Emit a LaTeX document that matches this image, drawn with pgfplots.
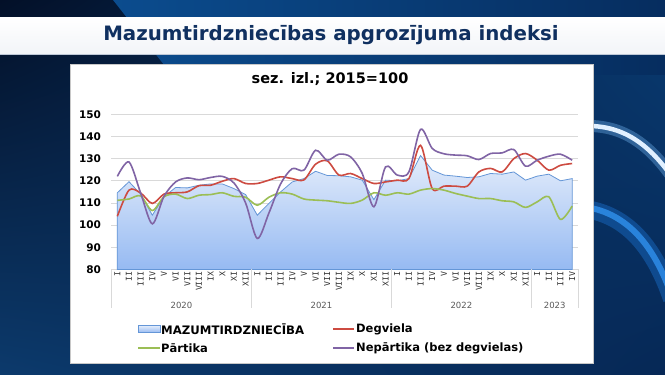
\documentclass[border=0pt]{standalone}
\usepackage{fontspec}
\setmainfont{DejaVu Sans}
\setmonofont{DejaVu Sans Mono}
\usepackage{pgfplots}
\pgfplotsset{compat=1.18}
\usetikzlibrary{shadings}
\definecolor{bgA}{RGB}{3,16,40}
\definecolor{bgB}{RGB}{9,58,112}
\definecolor{bgC}{RGB}{12,58,108}
\definecolor{bgD}{RGB}{6,40,86}
\definecolor{bgbright}{RGB}{11,76,142}
\definecolor{bgbright2}{RGB}{6,45,95}
\definecolor{navy}{RGB}{16,48,96}
\definecolor{cblue}{RGB}{100,150,215}
\definecolor{areatop}{RGB}{228,237,251}
\definecolor{areabot}{RGB}{150,186,242}
\definecolor{cred}{RGB}{205,75,65}
\definecolor{cgreen}{RGB}{155,190,85}
\definecolor{cpurple}{RGB}{128,100,165}
\definecolor{gridc}{RGB}{217,217,217}
\definecolor{txtgray}{RGB}{50,50,50}
\definecolor{yeargray}{RGB}{89,89,89}
\begin{document}
\begin{tikzpicture}[x=1pt,y=1pt]
\useasboundingbox (0,0) rectangle (665,375);
\clip (0,0) rectangle (665,375);
% background
\shade[upper left=bgA, upper right=bgB, lower left=bgC, lower right=bgD] (0,0) rectangle (665,375);
\shade[left color=bgbright, right color=bgbright2] (113,375) -- (665,375) -- (665,300) -- (172,300) -- cycle;
% arcs on the right
\draw[line width=18, color={rgb,255:red,30;green,130;blue,235}, opacity=0.35] (585,166) .. controls (628,160) and (655,126) .. (672,76);
\draw[line width=6, color={rgb,255:red,50;green,150;blue,245}, opacity=0.75] (585,168) .. controls (628,162) and (655,128) .. (672,78);
\draw[line width=12, color={rgb,255:red,120;green,190;blue,250}, opacity=0.35] (585,249) .. controls (622,250) and (648,232) .. (672,198);
\draw[line width=4.5, color={rgb,255:red,225;green,240;blue,255}] (585,249) .. controls (622,250) and (648,232) .. (672,198);
% title band
\shade[top color=white, bottom color={rgb,255:red,242;green,244;blue,248}] (0,321) rectangle (665,357);
\draw[color={rgb,255:red,190;green,200;blue,215}, line width=0.6] (0,321) -- (665,321);
\node[font=\bfseries\fontsize{19.8}{22}\selectfont, text=navy] at (331,339.5) {Mazumtirdzniecības apgrozījuma indeksi};
% panel
\fill[white] (70,12) rectangle (593,311);
\draw[color={rgb,255:red,200;green,200;blue,200}, line width=0.6] (70,12) rectangle (593,311);
\node[font=\bfseries\fontsize{14.5}{16}\selectfont] at (330,295.5) {sez. izl.; 2015=100};
\begin{axis}[
  at={(111.5pt,105.5pt)}, anchor=south west, scale only axis,
  width=466.5pt, height=155.2pt,
  xmin=-0.5, xmax=39.5, ymin=80, ymax=150,
  ytick={80,90,...,150},
  ymajorgrids, grid style={gridc, line width=0.8pt},
  axis line style={draw=none},
  major tick length=0pt, tick style={draw=none},
  xtick={0,...,39},
  xticklabels={I,II,III,IV,V,VI,VII,VIII,IX,X,XI,XII,I,II,III,IV,V,VI,VII,VIII,IX,X,XI,XII,I,II,III,IV,V,VI,VII,VIII,IX,X,XI,XII,I,II,III,IV},
  x tick label style={rotate=90, anchor=east, font=\ttfamily\fontsize{8.2}{9}\selectfont, text=txtgray, inner sep=1.5pt},
  yticklabel style={font=\bfseries\fontsize{10.5}{12}\selectfont, text=black, xshift=-7pt},
  /pgf/number format/assume math mode=true,
  clip=false, no markers,
]
\addplot[draw=cblue, line width=0.8pt, top color=areatop, bottom color=areabot] coordinates {
(0,114.6)(1,119.6)(2,114)(3,104.5)(4,112.8)(5,117)(6,116.8)(7,118)(8,118.6)(9,118.6)
(10,116.5)(11,113.8)(12,104.5)(13,109.8)(14,115)(15,119.5)(16,121)(17,124.3)(18,122.4)(19,122.3)
(20,121.8)(21,120.3)(22,111.5)(23,120.3)(24,120)(25,121)(26,131.4)(27,124.8)(28,122.6)(29,122.1)
(30,121.5)(31,121.8)(32,123.3)(33,123)(34,124)(35,120.3)(36,122.1)(37,123)(38,120)(39,121)
(39,80)(0,80)} -- cycle;
\addplot[cred, line width=1.6pt, smooth] coordinates {
(0,104)(1,115.8)(2,114.5)(3,109.8)(4,114)(5,114.6)(6,115)(7,117.8)(8,118)(9,119.8)
(10,121)(11,118.8)(12,118.8)(13,120.3)(14,121.8)(15,121)(16,120.4)(17,127.5)(18,129)(19,122.6)
(20,123.3)(21,121)(22,118.8)(23,119.5)(24,120.3)(25,121)(26,136)(27,116.5)(28,117.6)(29,117.6)
(30,117.6)(31,124)(32,125.6)(33,124)(34,130)(35,132.3)(36,129.3)(37,124.8)(38,127)(39,127.8)};
\addplot[cgreen, line width=1.6pt, smooth] coordinates {
(0,111.2)(1,111.8)(2,113.2)(3,106.6)(4,112.8)(5,114)(6,112)(7,113.5)(8,113.8)(9,114.6)
(10,113)(11,112.6)(12,109)(13,112.6)(14,114.6)(15,114)(16,111.8)(17,111.3)(18,111)(19,110.3)
(20,109.8)(21,111.3)(22,114.6)(23,113.5)(24,114.6)(25,114)(26,115.8)(27,116.5)(28,115.8)(29,114.3)
(30,113.1)(31,112)(32,112)(33,111)(34,110.5)(35,108)(36,110.5)(37,112.8)(38,102.6)(39,108.6)};
\addplot[cpurple, line width=1.6pt, smooth] coordinates {
(0,122)(1,128.5)(2,114.5)(3,100.6)(4,113)(5,119.5)(6,121.3)(7,120.5)(8,121.5)(9,122)
(10,119)(11,110)(12,94)(13,105.5)(14,118.6)(15,125.5)(16,124.8)(17,133.8)(18,129.3)(19,132)
(20,130.8)(21,123.3)(22,108.3)(23,126.3)(24,122.6)(25,124)(26,143.2)(27,134.6)(28,132.2)(29,131.6)
(30,131.3)(31,129.6)(32,132.3)(33,132.6)(34,134.1)(35,126.6)(36,129.3)(37,131.1)(38,132)(39,129.3)};
% category group separators and years
\draw[gridc, line width=0.8pt] (axis cs:-0.5,80) -- ++(0pt,-38.5pt);
\draw[gridc, line width=0.8pt] (axis cs:11.5,80) -- ++(0pt,-38.5pt);
\draw[gridc, line width=0.8pt] (axis cs:23.5,80) -- ++(0pt,-38.5pt);
\draw[gridc, line width=0.8pt] (axis cs:35.5,80) -- ++(0pt,-38.5pt);
\draw[gridc, line width=0.8pt] (axis cs:39.5,80) -- ++(0pt,-38.5pt);
\node[font=\fontsize{8.5}{10}\selectfont, text=yeargray] at ([yshift=-35.5pt]axis cs:5.5,80) {2020};
\node[font=\fontsize{8.5}{10}\selectfont, text=yeargray] at ([yshift=-35.5pt]axis cs:17.5,80) {2021};
\node[font=\fontsize{8.5}{10}\selectfont, text=yeargray] at ([yshift=-35.5pt]axis cs:29.5,80) {2022};
\node[font=\fontsize{8.5}{10}\selectfont, text=yeargray] at ([yshift=-35.5pt]axis cs:37.5,80) {2023};
\end{axis}
% legend
\shade[top color=areatop, bottom color=areabot, draw=cblue, line width=0.7pt] (138,42.5) rectangle (160,49.5);
\node[anchor=west, inner sep=0pt, font=\bfseries\fontsize{11.7}{13}\selectfont] at (161,46) {MAZUMTIRDZNIECĪBA};
\draw[cred, line width=1.6pt] (333,46) -- (354,46);
\node[anchor=west, inner sep=0pt, font=\bfseries\fontsize{11.5}{13}\selectfont] at (356,46) {Degviela};
\draw[cgreen, line width=1.6pt] (138,27) -- (160,27);
\node[anchor=west, inner sep=0pt, font=\bfseries\fontsize{11.5}{13}\selectfont] at (161,27) {Pārtika};
\draw[cpurple, line width=1.6pt] (333,27) -- (354,27);
\node[anchor=west, inner sep=0pt, font=\bfseries\fontsize{11.5}{13}\selectfont] at (356,27) {Nepārtika (bez degvielas)};
\end{tikzpicture}
\end{document}
